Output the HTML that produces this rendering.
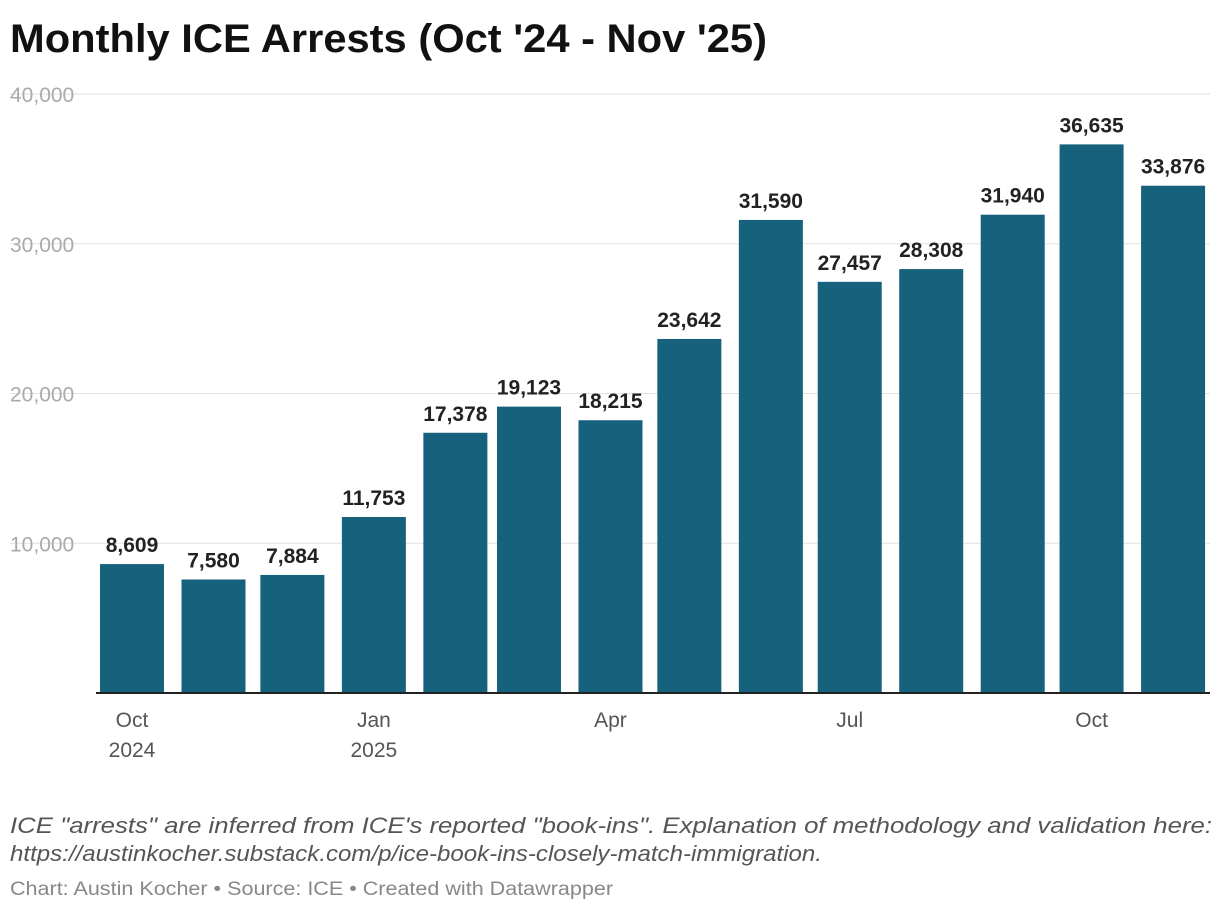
<!DOCTYPE html>
<html><head><meta charset="utf-8"><style>
html,body{margin:0;padding:0;background:#fff;}
svg{display:block;font-family:"Liberation Sans",sans-serif;}
</style></head><body>
<svg width="1220" height="912" viewBox="0 0 1220 912">
<text x="10" y="52" font-size="40" font-weight="bold" fill="#111" textLength="757" lengthAdjust="spacingAndGlyphs">Monthly ICE Arrests (Oct '24 - Nov '25)</text>
<g id="grid"></g>
<g id="bars"></g>
<g id="labels"></g>
<g id="xaxis"></g>
<text x="10" y="833" font-size="22" font-style="italic" fill="#555" textLength="1202" lengthAdjust="spacingAndGlyphs">ICE "arrests" are inferred from ICE's reported "book-ins". Explanation of methodology and validation here:</text>
<text x="10" y="861" font-size="22" font-style="italic" fill="#555" textLength="812" lengthAdjust="spacingAndGlyphs">https://austinkocher.substack.com/p/ice-book-ins-closely-match-immigration.</text>
<text x="10" y="895" font-size="19" fill="#888" textLength="603" lengthAdjust="spacingAndGlyphs">Chart: Austin Kocher • Source: ICE • Created with Datawrapper</text>
</svg>
<script>
const months = ["2024-10","2024-11","2024-12","2025-01","2025-02","2025-03","2025-04","2025-05","2025-06","2025-07","2025-08","2025-09","2025-10","2025-11"];
const arrests = [8609,7580,7884,11753,17378,19123,18215,23642,31590,27457,28308,31940,36635,33876];
const yTicks = [10000,20000,30000,40000];
const xTickMonths = ["2024-10","2025-01","2025-04","2025-07","2025-10"];
const xTickLabels = [["Oct","2024"],["Jan","2025"],["Apr",""],["Jul",""],["Oct",""]];

const NS="http://www.w3.org/2000/svg";
const base=new Date(Date.UTC(2024,9,1));
function days(m){const [y,mo]=m.split("-").map(Number);return (Date.UTC(y,mo-1,1)-base)/86400000;}
function xs(m){return 132+days(m)*2.629;}
function ys(v){return 693-v*(599/40000);}
function mk(tag,attrs,parent){const e=document.createElementNS(NS,tag);for(const k in attrs)e.setAttribute(k,attrs[k]);document.getElementById(parent).appendChild(e);return e;}
const fmt=v=>v.toLocaleString("en-US");

yTicks.forEach(t=>{
  const l=mk("line",{x1:10,x2:1210,y1:ys(t),y2:ys(t),stroke:"#e2e2e2","stroke-width":1},"grid");
  
  
  const tx=mk("text",{x:10,y:ys(t)+8,"font-size":21,fill:"#aaa"},"grid");
  tx.textContent=fmt(t);
  
  
});
months.forEach((m,i)=>{
  const cx=xs(m),v=arrests[i];
  const r=mk("rect",{x:cx-32,y:ys(v),width:64,height:693-ys(v),fill:"#16617b"},"bars");
  
  
  const t=mk("text",{x:cx,y:ys(v)-12,"font-size":21,"font-weight":"bold",fill:"#222","text-anchor":"middle"},"labels");
  t.textContent=fmt(v);
  
  
});
const ax=mk("line",{x1:96,x2:1210,y1:693,y2:693,stroke:"#222","stroke-width":2},"xaxis");


xTickMonths.forEach((m,i)=>{
  xTickLabels[i].forEach((s,j)=>{
    if(!s)return;
    const t=mk("text",{x:xs(m),y:727+j*30,"font-size":21,fill:"#555","text-anchor":"middle"},"xaxis");
    t.textContent=s;
    
    
  });
});
</script>
</body></html>
